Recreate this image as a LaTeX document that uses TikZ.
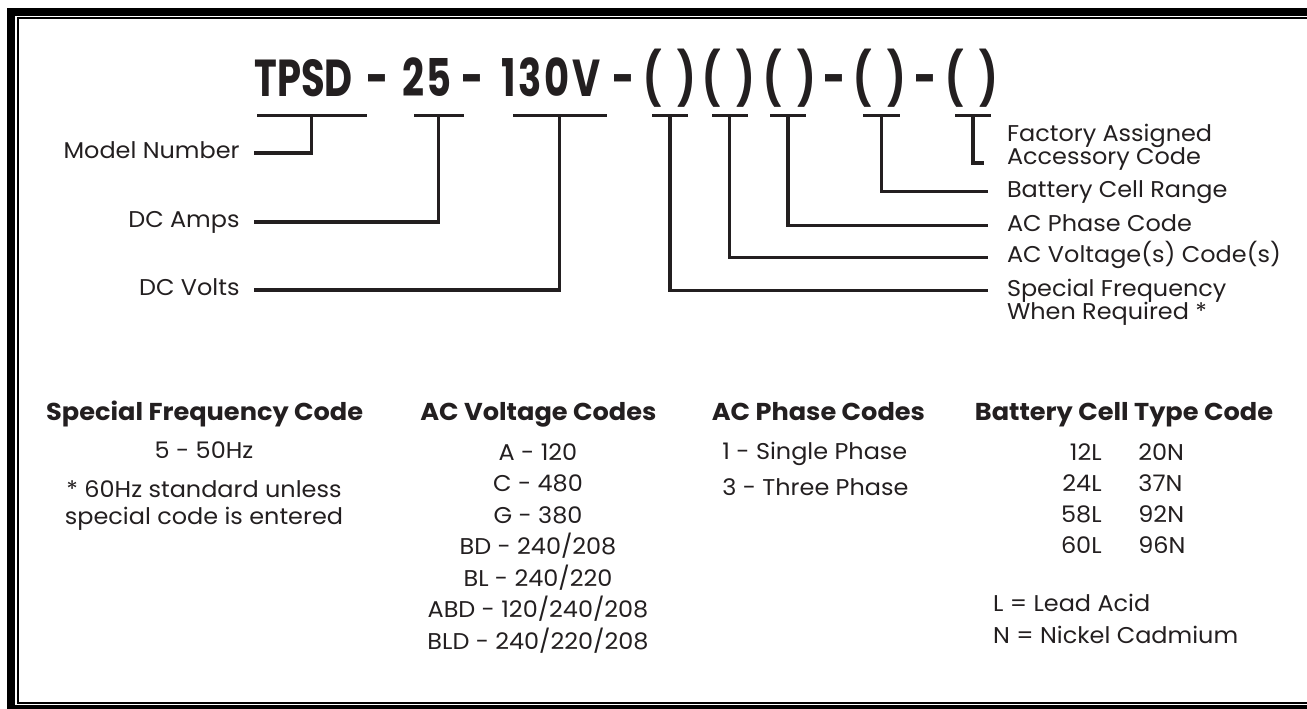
\documentclass[tikz,border=0pt]{standalone}
\usepackage{fontspec}
\setmainfont{Poppins}[FakeStretch=1.05]
\newfontfamily\headfont[FakeStretch=0.74]{Poppins}
\usepackage{tikz}
\usetikzlibrary{positioning}
\definecolor{inkcol}{HTML}{231F20}

\begin{document}
\begin{tikzpicture}[x=0.5pt,y=-0.5pt,
  every node/.style={text=inkcol},
  head/.style={font=\headfont\bfseries\fontsize{26}{28}\selectfont,inner sep=0pt,anchor=base},
  wide/.style={font=\headfont\bfseries\fontsize{26}{28}\selectfont\addfontfeature{LetterSpace=5}},
  bar/.style={fill=inkcol,inner sep=0pt,minimum height=1.5pt},
  conn/.style={draw=inkcol,line width=1.7pt},
  lbl/.style={font=\fontsize{11.4}{13}\selectfont,inner ysep=0pt},
  lleft/.style={lbl,inner xsep=7pt,anchor=mid east},
  lright/.style={lbl,inner xsep=9.3pt,anchor=mid west},
  colhead/.style={font=\bfseries\fontsize{12.2}{14}\selectfont,inner sep=0pt,anchor=base},
  entry/.style={font=\fontsize{11.4}{13}\selectfont,inner sep=0pt}]
  \useasboundingbox (0,0) rectangle (1307,708);
  \clip (0,0) rectangle (1307,708);
  % double frame, cut off at the right
  \draw[line width=4pt] (11,12) rectangle (1330,709);
  \draw[line width=1pt] (17.7,18.3) rectangle (1330,702.5);
  % model code
  \node[head] (tpsd) at (303.7,96) {TPSD};
  \node[head] (dash1) at (377.5,96) {-};
  \node[head,wide] (rating) at (427,96) {25};
  \node[head] (dash2) at (472.5,96) {-};
  \node[head,wide] (voltage) at (551,96) {130V};
  \node[head] (dash3) at (624,96) {-};
  \foreach \n/\cx in {pFreq/669.4,pAcv/729,pPhase/789.4,pCell/880,pAcc/971.4}
    \node[head] (\n) at (\cx,96) {(\hspace{8pt})};
  \node[head] (dash4) at (834.6,96) {-};
  \node[head] (dash5) at (925.6,96) {-};
  % underline bars
  \foreach \n/\cx/\w in {barModel/311.75/109.5,barAmps/438.75/49.5,barVolts/559.75/93.5,
      barFreq/669.8/35.6,barAcv/729.75/36.5,barPhase/787.85/36.3,barCell/881.25/36.5,barAcc/972.9/36.2}
    \node[bar,minimum width=\w*0.5pt] (\n) at (\cx,115.7) {};
  % left labels
  \node[lleft] (model) at (254,153) {Model Number};
  \node[lleft] (dcamps) at (254,222) {DC Amps};
  \node[lleft] (dcvolts) at (254,290) {DC Volts};
  \draw[conn] (barModel.center) |- (model.mid east);
  \draw[conn] (barAmps.center) |- (dcamps.mid east);
  \draw[conn] (barVolts.center) |- (dcvolts.mid east);
  % right labels
  \node[lbl,inner xsep=0pt,anchor=base west] (accessory) at (1006.6,164) {Accessory Code};
  \node[lbl,inner xsep=0pt,anchor=base west] (factory) at ([yshift=11.2pt]accessory.base west) {Factory Assigned};
  \node[lright] (cellrange) at (988,191.7) {Battery Cell Range};
  \node[lright] (phasecode) at (988,225.7) {AC Phase Code};
  \node[lright] (voltcode) at (988,257.3) {AC Voltage(s) Code(s)};
  \node[lright] (specfreq) at (988,290.7) {Special Frequency};
  \node[lbl,inner xsep=0pt,anchor=base west] (whenreq) at ([yshift=-11.5pt,xshift=9.3pt]specfreq.base west) {When Required *};
  \coordinate (accEnd) at (984,163);
  \draw[conn] (barAcc.center) |- (accEnd);
  \draw[conn] (barCell.center) |- (cellrange.mid west);
  \draw[conn] (barPhase.center) |- (phasecode.mid west);
  \draw[conn] (barAcv.center) |- (voltcode.mid west);
  \draw[conn] (barFreq.center) |- (specfreq.mid west);
  % code tables
  \node[colhead] (hFreq) at (204.7,420) {Special Frequency Code};
  \node[colhead] (hVolt) at (538.4,420) {AC Voltage Codes};
  \node[colhead] (hPhase) at (818.4,420) {AC Phase Codes};
  \node[colhead] (hCell) at (1124,420) {Battery Cell Type Code};
  \node[entry,anchor=base] (freq1) at (204,458) {5 - 50Hz};
  \node[entry,anchor=base] (freq2) at (204,497) {* 60Hz standard unless};
  \node[entry,anchor=base] (freq3) at (204,524) {special code is entered};
  \foreach \t [count=\i] in {A - 120,C - 480,G - 380,BD - 240/208,BL - 240/220,ABD - 120/240/208,BLD - 240/220/208}
    \node[entry,anchor=base] (volt\i) at (538,{460+31.55*(\i-1)}) {\t};
  \node[entry,anchor=base west] (phase1) at (722,459.3) {1 - Single Phase};
  \node[entry,anchor=base west] (phase2) at (722,495) {3 - Three Phase};
  \foreach \l/\r [count=\i] in {12L/20N,24L/37N,58L/92N,60L/96N} {
    \node[entry,anchor=base east] (lead\i) at (1102,{460+31.3*(\i-1)}) {\l};
    \node[entry,anchor=base west] (nicd\i) at (1138,{460+31.3*(\i-1)}) {\r};
  }
  \node[entry,anchor=base west] (leadkey) at (992.8,611) {L = Lead Acid};
  \node[entry,anchor=base west] (nicdkey) at (992.8,643.3) {N = Nickel Cadmium};
\end{tikzpicture}
\end{document}
